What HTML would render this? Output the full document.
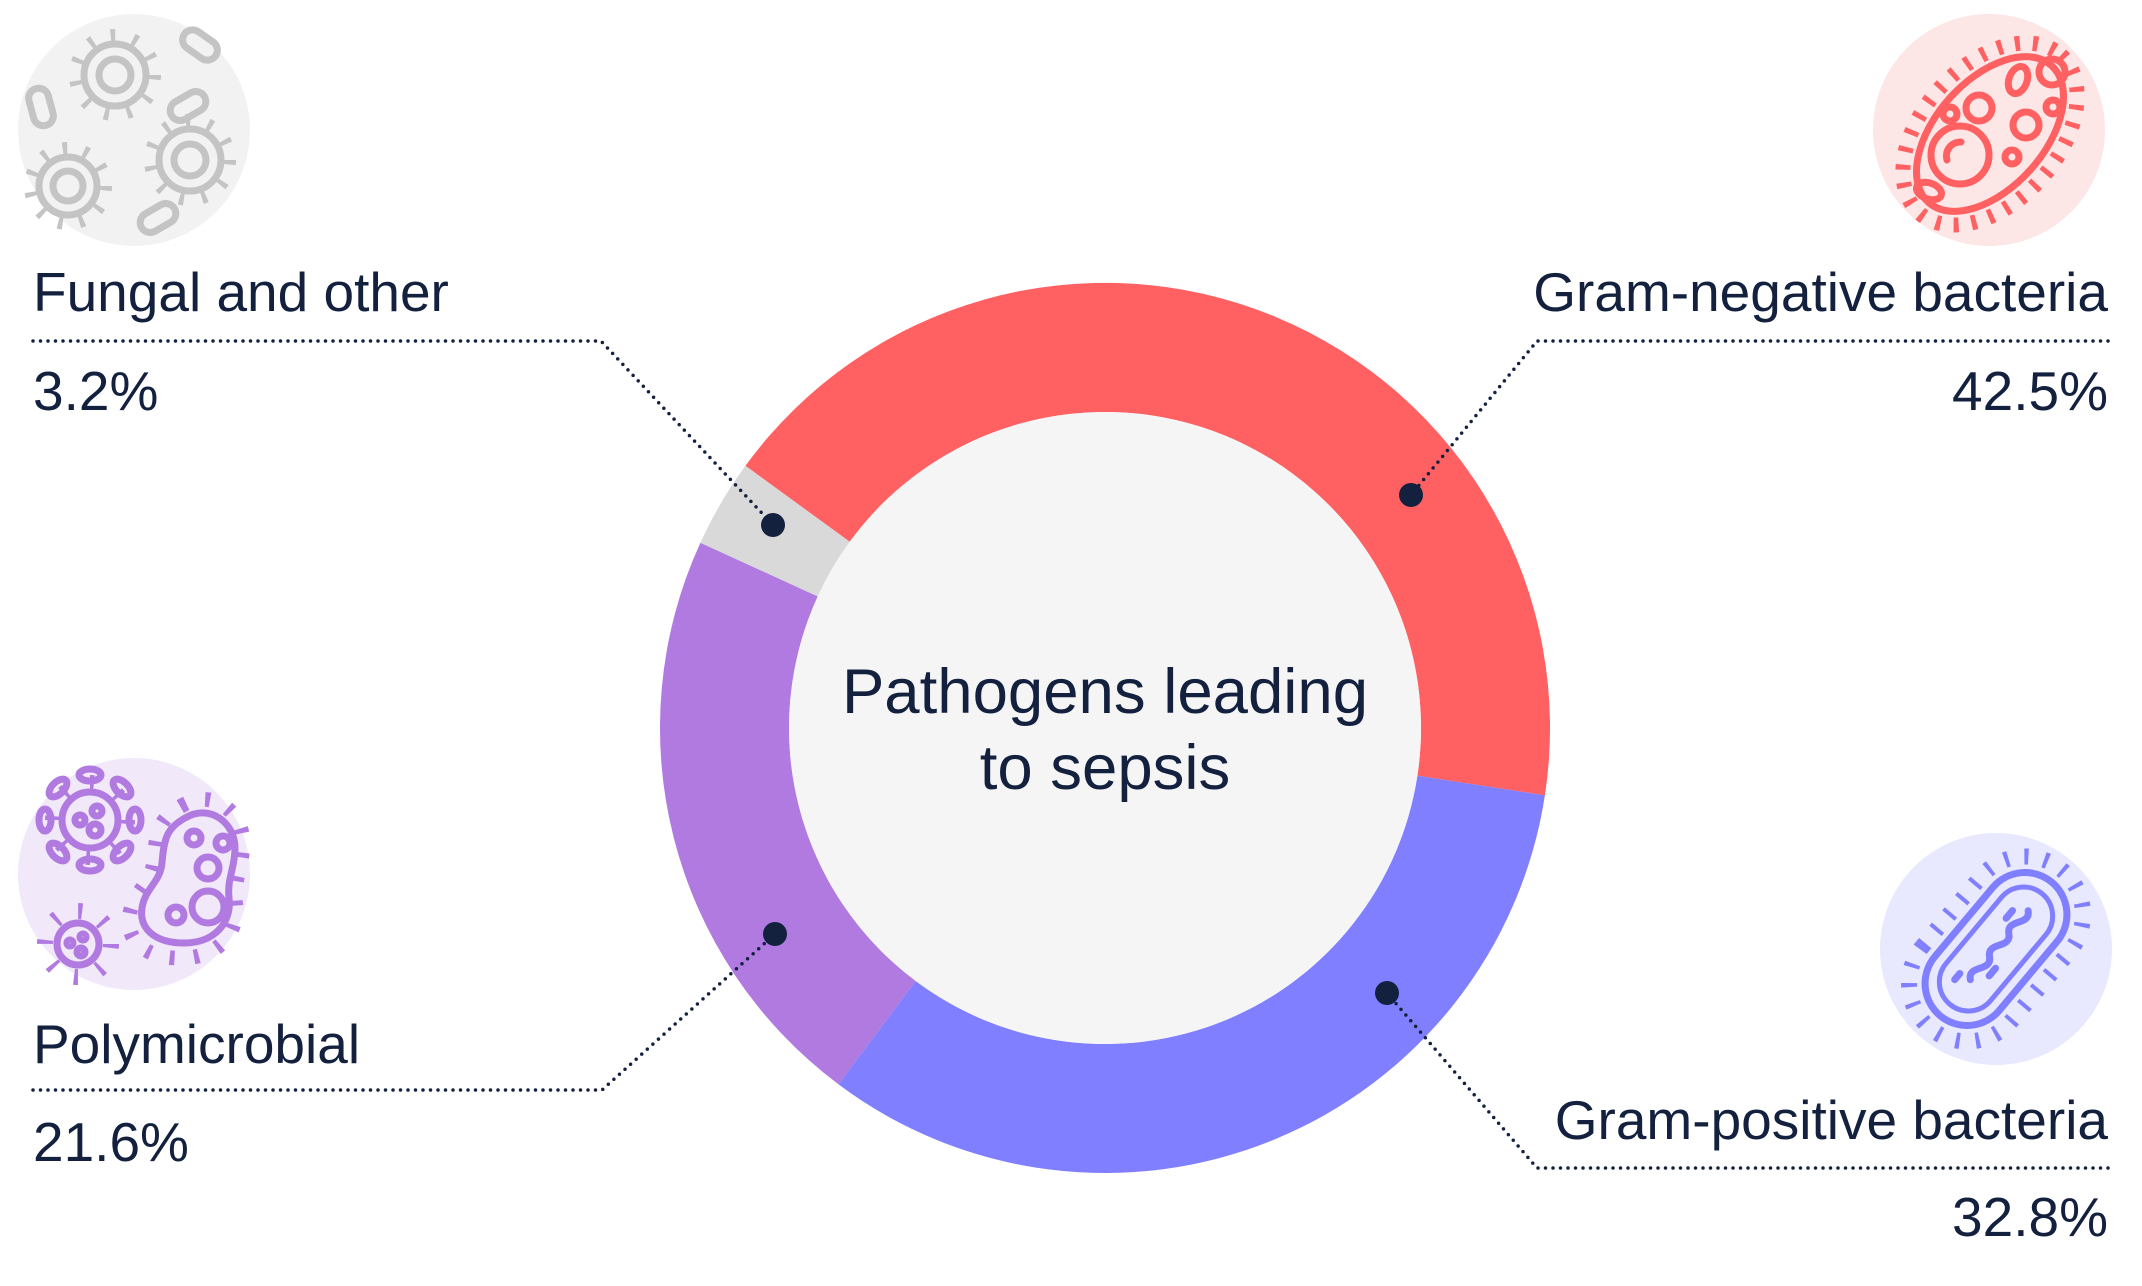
<!DOCTYPE html>
<html><head><meta charset="utf-8"><style>
html,body{margin:0;padding:0;background:#fff;}
svg{display:block}
text{font-family:"Liberation Sans",Arial,sans-serif;fill:#13213F}
</style></head><body>
<svg width="2142" height="1286" viewBox="0 0 2142 1286" xmlns="http://www.w3.org/2000/svg">
<path d="M745.4,465.8 A445,445 0 0 1 1544.9,795.3 L1417.4,775.8 A316,316 0 0 0 849.7,541.8 Z" fill="#FF6163"/>
<path d="M1544.9,795.3 A445,445 0 0 1 838.4,1084.3 L915.7,981 A316,316 0 0 0 1417.4,775.8 Z" fill="#7F7FFF"/>
<path d="M838.4,1084.3 A445,445 0 0 1 700.4,542.7 L817.7,596.4 A316,316 0 0 0 915.7,981 Z" fill="#B07AE0"/>
<path d="M700.4,542.7 A445,445 0 0 1 745.4,465.8 L849.7,541.8 A316,316 0 0 0 817.7,596.4 Z" fill="#D9D9D9"/>
<circle cx="1105" cy="728" r="316" fill="#F5F5F5"/>
<text x="1105" y="713" font-size="63.5" text-anchor="middle">Pathogens leading</text>
<text x="1105" y="789" font-size="63.5" text-anchor="middle">to sepsis</text>

<g fill="none" stroke="#13213F" stroke-width="3.5" stroke-linecap="round" stroke-dasharray="0 7.5">
<polyline points="33,341 601,341 773,525"/>
<polyline points="2108,341 1537,341 1411,495"/>
<polyline points="33,1090 602,1090 775,934"/>
<polyline points="2108,1168 1537,1168 1387,993"/>
</g>
<g fill="#13213F">
<circle cx="773" cy="525" r="12"/>
<circle cx="1411" cy="495" r="12"/>
<circle cx="775" cy="934" r="12"/>
<circle cx="1387" cy="993" r="12"/>
</g>

<text x="33" y="311" font-size="55">Fungal and other</text>
<text x="33" y="410" font-size="55">3.2%</text>
<text x="2108" y="311" font-size="55" text-anchor="end">Gram-negative bacteria</text>
<text x="2108" y="410" font-size="55" text-anchor="end">42.5%</text>
<text x="33" y="1063" font-size="55">Polymicrobial</text>
<text x="33" y="1161" font-size="55">21.6%</text>
<text x="2108" y="1139" font-size="55" text-anchor="end">Gram-positive bacteria</text>
<text x="2108" y="1236" font-size="55" text-anchor="end">32.8%</text>

<circle cx="134" cy="130" r="116" fill="#F2F2F2"/>
<g fill="none" stroke="#C4C4C4" stroke-width="7" stroke-linecap="round">
 <g transform="translate(115,75)"><circle r="31"/><circle r="16"/><circle r="39" stroke-width="14" stroke-dasharray="4.5 17.9" stroke-linecap="butt"/></g>
 <g transform="translate(190,160)"><circle r="31"/><circle r="16"/><circle r="39" stroke-width="14" stroke-dasharray="4.5 17.9" stroke-linecap="butt"/></g>
 <g transform="translate(68,186)"><circle r="29"/><circle r="15"/><circle r="37" stroke-width="14" stroke-dasharray="4.5 16.6" stroke-linecap="butt"/></g>
 <rect x="-19" y="-10" width="38" height="20" rx="10" transform="translate(200,45) rotate(35)"/>
 <rect x="-19" y="-10" width="38" height="20" rx="10" transform="translate(188,106) rotate(-30)"/>
 <rect x="-19" y="-10" width="38" height="20" rx="10" transform="translate(41,107) rotate(75)"/>
 <rect x="-19" y="-10" width="38" height="20" rx="10" transform="translate(158,218) rotate(-30)"/>
</g>

<circle cx="1989" cy="130" r="116" fill="#FDE6E6"/>
<g fill="none" stroke="#FF6163" stroke-width="7" stroke-linecap="round" transform="translate(1990,134) rotate(-48)">
 <ellipse rx="92" ry="54"/>
 <ellipse rx="106" ry="68" stroke-width="15" stroke-dasharray="5 13" stroke-linecap="butt"/>
</g>
<g fill="none" stroke="#FF6163" stroke-width="7" stroke-linecap="round">
 <circle cx="1960" cy="155" r="29"/>
 <path d="M1947,160 a14,14 0 0 1 14,-18"/>
 <circle cx="1979" cy="108" r="13"/>
 <circle cx="1950" cy="114" r="7"/>
 <circle cx="2026" cy="125" r="13"/>
 <circle cx="2052" cy="72" r="13"/>
 <circle cx="2053" cy="107" r="7"/>
 <circle cx="2012" cy="157" r="7"/>
 <ellipse cx="2018" cy="80" rx="9" ry="14" transform="rotate(20 2018 80)"/>
 <ellipse cx="1929" cy="191" rx="13" ry="8" transform="rotate(20 1929 191)"/>
</g>

<circle cx="134" cy="874" r="116" fill="#F1E8FA"/>
<g fill="none" stroke="#B07AE0" stroke-width="7" stroke-linecap="round">
 <g transform="translate(90,820)"><circle r="28"/><circle r="38" stroke-width="14" stroke-dasharray="4 25.8" stroke-linecap="butt"/>
  <circle cx="-10" cy="0" r="5"/><circle cx="7" cy="-9" r="5"/><circle cx="5" cy="10" r="6"/>
  <ellipse cx="0" cy="-45" rx="11" ry="6"/><ellipse cx="0" cy="45" rx="11" ry="6"/><ellipse cx="-45" cy="0" rx="6" ry="11"/><ellipse cx="45" cy="0" rx="6" ry="11"/>
  <ellipse cx="32" cy="-32" rx="11" ry="6" transform="rotate(45 32 -32)"/><ellipse cx="-32" cy="32" rx="11" ry="6" transform="rotate(45 -32 32)"/><ellipse cx="-32" cy="-32" rx="11" ry="6" transform="rotate(-45 -32 -32)"/><ellipse cx="32" cy="32" rx="11" ry="6" transform="rotate(-45 32 32)"/>
 </g>
 <g transform="translate(78,944)"><circle r="21"/><circle r="33" stroke-width="16" stroke-dasharray="4 21.9" stroke-linecap="butt"/>
  <circle cx="-8" cy="-1" r="3"/><circle cx="5" cy="-7" r="3"/><circle cx="3" cy="8" r="4"/>
 </g>
 <path d="M185,818 c25,-15 50,5 50,30 c0,20 -8,30 -6,50 c3,25 -15,45 -45,45 c-30,0 -45,-15 -42,-35 c3,-20 18,-25 20,-45 c2,-25 5,-35 23,-45 z"/>
 <path d="M185,818 c25,-15 50,5 50,30 c0,20 -8,30 -6,50 c3,25 -15,45 -45,45 c-30,0 -45,-15 -42,-35 c3,-20 18,-25 20,-45 c2,-25 5,-35 23,-45 z" stroke-width="12" stroke-dasharray="4 16" stroke-linecap="butt" transform="translate(199,874) scale(1.22) translate(-199,-874)"/>
 <circle cx="194" cy="838" r="7"/><circle cx="223" cy="843" r="7"/><circle cx="208" cy="868" r="11"/><circle cx="208" cy="907" r="16"/><circle cx="176" cy="915" r="8"/>
</g>

<circle cx="1996" cy="949" r="116" fill="#E8E8FF"/>
<g fill="none" stroke="#7F7FFF" stroke-width="7" stroke-linecap="round" transform="translate(1996,949) rotate(-50)">
 <rect x="-87" y="-42" width="174" height="84" rx="42"/>
 <rect x="-72" y="-29" width="144" height="58" rx="29" stroke-width="5"/>
 <rect x="-103" y="-58" width="206" height="116" rx="58" stroke-width="16" stroke-dasharray="4 16" stroke-linecap="butt"/>
 <path d="M-40,0 c10,-12 20,12 30,0 c10,-12 20,12 30,0 c10,-12 20,12 30,0"/>
 <path d="M-25,12 l10,0 M30,-12 l10,0 M-50,-12 l8,0"/>
</g>
</svg>
</body></html>
